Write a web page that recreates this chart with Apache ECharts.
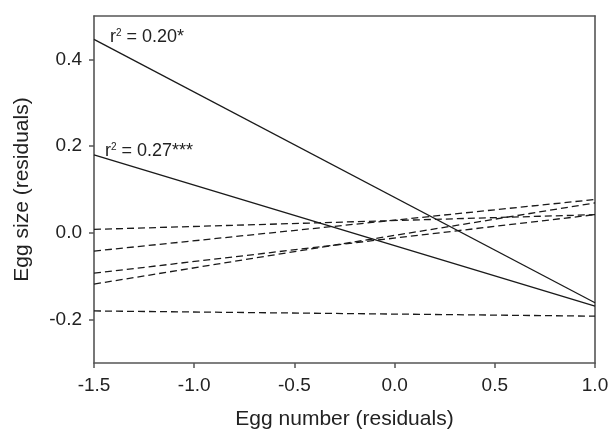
<!DOCTYPE html>
<html>
<head>
<meta charset="utf-8">
<script src="https://cdn.jsdelivr.net/npm/echarts@6/dist/echarts.min.js"></script>
<style>
  html, body { margin: 0; padding: 0; background: #fff; }
  #chart { width: 611px; height: 429px; }
</style>
</head>
<body>
<div id="chart"></div>
<script>
// regression lines, drawn from x = -1.5 to x = 1.0
const xEnds = [-1.5, 1.0]
// solid lines (significant)
const solidA = [0.446, -0.161]   // r2 = 0.20*
const solidB = [0.180, -0.169]   // r2 = 0.27***
// dashed lines (not significant)
const dashA = [0.008, 0.042]
const dashB = [-0.042, 0.077]
const dashC = [-0.093, 0.042]
const dashD = [-0.118, 0.069]
const dashE = [-0.180, -0.192]
const yTicks = [-0.2, 0.0, 0.2, 0.4]

const fontFam = '"Liberation Sans", Arial, Helvetica, sans-serif'
const lineColor = '#1a1a1a'
const axisColor = '#555'

function pairs(ys) {
  return xEnds.map((x, i) => [x, ys[i]])
}

function lineSeries(ys, dashed) {
  return {
    type: 'line',
    data: pairs(ys),
    symbol: 'none',
    silent: true,
    lineStyle: {
      color: lineColor,
      width: 1.3,
      type: dashed ? [7, 4] : 'solid'
    }
  }
}

function rLabel(txt) {
  return {
    text: '{r|r}{s|2}{t| = ' + txt + '}',
    rich: {
      r: { fontSize: 18, fill: '#222', fontFamily: fontFam, verticalAlign: 'bottom' },
      s: { fontSize: 10, fill: '#222', fontFamily: fontFam, verticalAlign: 'top' },
      t: { fontSize: 18, fill: '#222', fontFamily: fontFam, verticalAlign: 'bottom' }
    }
  }
}

// plain frame axes for the top and right sides of the box
function frameAxis(pos, min, max) {
  return {
    type: 'value',
    position: pos,
    min: min,
    max: max,
    axisLine: { show: true, onZero: false, lineStyle: { color: axisColor, width: 1.6 } },
    axisTick: { show: false },
    axisLabel: { show: false },
    splitLine: { show: false }
  }
}

const myChart = echarts.init(document.getElementById('chart'))
const option = {
  animation: false,
  backgroundColor: '#fff',
  textStyle: { fontFamily: fontFam },
  grid: {
    left: 94,
    right: 16,
    top: 16,
    bottom: 66,
    outerBoundsMode: 'none'
  },
  xAxis: [{
    type: 'value',
    min: -1.5,
    max: 1.0,
    interval: 0.5,
    name: 'Egg number (residuals)',
    nameLocation: 'middle',
    nameGap: 46,
    nameTextStyle: { fontSize: 21, color: '#222', fontFamily: fontFam },
    splitLine: { show: false },
    axisLine: { onZero: false, lineStyle: { color: axisColor, width: 1.6 } },
    axisTick: { inside: false, length: 5, lineStyle: { color: axisColor, width: 1.5 } },
    axisLabel: {
      fontSize: 19,
      color: '#222',
      margin: 13,
      formatter: v => v.toFixed(1)
    }
  }, frameAxis('top', -1.5, 1.0)],
  yAxis: [{
    type: 'value',
    min: -0.3,
    max: 0.5,
    name: 'Egg size (residuals)',
    nameLocation: 'middle',
    nameGap: 61,
    nameTextStyle: { fontSize: 21, color: '#222', fontFamily: fontFam },
    splitLine: { show: false },
    axisLine: { show: true, onZero: false, lineStyle: { color: axisColor, width: 1.6 } },
    axisTick: { show: true, length: 5, customValues: yTicks, lineStyle: { color: axisColor, width: 1.5 } },
    axisLabel: {
      fontSize: 19,
      color: '#222',
      margin: 12,
      customValues: yTicks,
      formatter: v => v.toFixed(1)
    }
  }, frameAxis('right', -0.3, 0.5)],
  graphic: [
    { type: 'text', left: 110, top: 28, style: rLabel('0.20*') },
    { type: 'text', left: 105, top: 142, style: rLabel('0.27***') }
  ],
  series: [
    lineSeries(solidA, false),
    lineSeries(solidB, false),
    lineSeries(dashA, true),
    lineSeries(dashB, true),
    lineSeries(dashC, true),
    lineSeries(dashD, true),
    lineSeries(dashE, true)
  ]
}
myChart.setOption(option)
</script>
</body>
</html>
